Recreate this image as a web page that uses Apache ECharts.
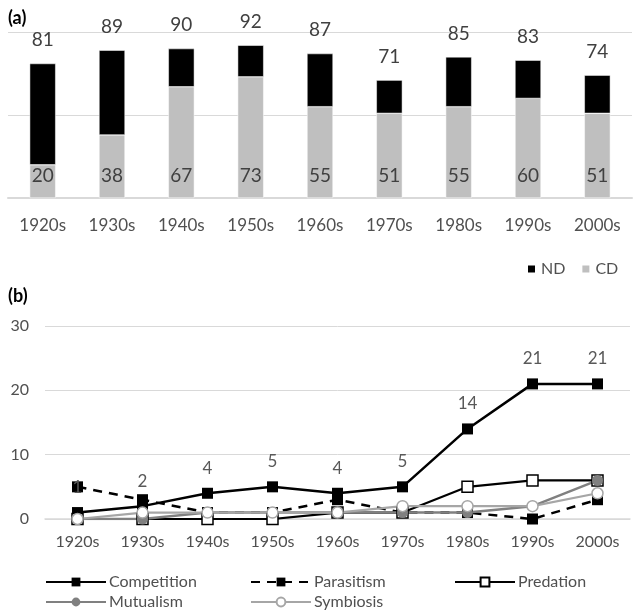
<!DOCTYPE html>
<html>
<head>
<meta charset="utf-8">
<script src="https://cdn.jsdelivr.net/npm/echarts@6/dist/echarts.min.js"></script>
<style>
html,body{margin:0;padding:0;background:#fff;}
#chart{width:637px;height:615px;}
</style>
</head>
<body>
<div id="chart"></div>
<script>
// ---- Data ----
var decades = ['1920s','1930s','1940s','1950s','1960s','1970s','1980s','1990s','2000s'];
// Panel (a)
var cdValues = [20, 38, 67, 73, 55, 51, 55, 60, 51];
var ndValues = [61, 51, 23, 19, 32, 20, 30, 23, 23];
var barTicks = [0, 50, 100];
// Panel (b)
var competition = [1, 2, 4, 5, 4, 5, 14, 21, 21];
var parasitism  = [5, 3, 1, 1, 3, 1, 1, 0, 3];
var predation   = [0, 0, 0, 0, 1, 1, 5, 6, 6];
var mutualism   = [0, 0, 1, 1, 1, 1, 1, 2, 6];
var symbiosis   = [0, 1, 1, 1, 1, 2, 2, 2, 4];
var lineTicks = [0, 10, 20, 30];

var FONT = 'Lato, "Open Sans", sans-serif';
var TEXT = '#505050';
var chart = echarts.init(document.getElementById('chart'), null, {renderer: 'canvas'});

function lineLegend(name, left, top) {
  return {data: [name], left: left, top: top, itemWidth: 60, itemHeight: 11, padding: 0,
    textStyle: {fontFamily: FONT, fontSize: 16, color: TEXT, padding: [0, 0, 0, -2]}};
}

var option = {
  backgroundColor: '#fff',
  animation: false,
  textStyle: {fontFamily: FONT},
  title: [
    {text: '(a)', left: 3, top: 4, textStyle: {fontFamily: FONT, fontSize: 18, fontWeight: 'bold', color: '#000'}},
    {text: '(b)', left: 3, top: 282, textStyle: {fontFamily: FONT, fontSize: 18, fontWeight: 'bold', color: '#000'}}
  ],
  legend: [
    {data: ['ND', 'CD'], left: 521, top: 256, icon: 'rect', itemWidth: 9, itemHeight: 9, itemGap: 15,
     textStyle: {fontFamily: FONT, fontSize: 16, color: TEXT}},
    lineLegend('Competition', 45, 574),
    lineLegend('Parasitism', 250, 574),
    lineLegend('Predation', 454, 574),
    lineLegend('Mutualism', 45, 594),
    lineLegend('Symbiosis', 250, 594)
  ],
  grid: [
    {left: 8, right: 5, top: 32, bottom: 417},
    {left: 45, right: 7, top: 326, bottom: 96}
  ],
  xAxis: [
    {type: 'category', gridIndex: 0, data: decades,
     axisLine: {show: true, lineStyle: {color: '#d9d9d9', width: 2}},
     axisTick: {show: false},
     axisLabel: {fontFamily: FONT, fontSize: 17, color: TEXT, margin: 19}},
    {type: 'category', gridIndex: 1, data: decades,
     axisLine: {show: true, lineStyle: {color: '#d9d9d9', width: 1.5}},
     axisTick: {show: false},
     axisLabel: {fontFamily: FONT, fontSize: 16, color: TEXT, margin: 15}}
  ],
  yAxis: [
    {type: 'value', gridIndex: 0, min: barTicks[0], max: barTicks[barTicks.length - 1], interval: barTicks[1] - barTicks[0],
     axisLabel: {show: false}, axisLine: {show: false}, axisTick: {show: false},
     splitLine: {lineStyle: {color: '#d9d9d9', width: 1}}},
    {type: 'value', gridIndex: 1, min: lineTicks[0], max: lineTicks[lineTicks.length - 1], interval: lineTicks[1] - lineTicks[0],
     axisLabel: {fontFamily: FONT, fontSize: 16, color: TEXT, margin: 16},
     axisLine: {show: false}, axisTick: {show: false},
     splitLine: {lineStyle: {color: '#d9d9d9', width: 1}}}
  ],
  series: [
    {name: 'CD', type: 'bar', stack: 'a', xAxisIndex: 0, yAxisIndex: 0, data: cdValues, barWidth: 26,
     itemStyle: {color: '#bfbfbf', borderColor: '#fff', borderWidth: 0.5},
     label: {show: true, position: 'insideBottom', distance: 13, fontFamily: FONT, fontSize: 19, color: '#404040'}},
    {name: 'ND', type: 'bar', stack: 'a', xAxisIndex: 0, yAxisIndex: 0, data: ndValues, barWidth: 26,
     itemStyle: {color: '#000', borderColor: '#fff', borderWidth: 0.5},
     label: {show: true, position: 'top', distance: 14, fontFamily: FONT, fontSize: 19, color: '#404040',
       formatter: function (p) { return String(p.value + cdValues[p.dataIndex]); }}},
    {name: 'Competition', type: 'line', xAxisIndex: 1, yAxisIndex: 1, data: competition,
     symbol: 'rect', symbolSize: 11, showAllSymbol: true,
     lineStyle: {color: '#000', width: 2.5}, itemStyle: {color: '#000'},
     label: {show: true, position: 'top', distance: 11, fontFamily: FONT, fontSize: 17, color: '#595959'}},
    {name: 'Parasitism', type: 'line', xAxisIndex: 1, yAxisIndex: 1, data: parasitism,
     symbol: 'rect', symbolSize: 11, showAllSymbol: true,
     lineStyle: {color: '#000', width: 2.5, type: [9, 7]}, itemStyle: {color: '#000'}},
    {name: 'Predation', type: 'line', xAxisIndex: 1, yAxisIndex: 1, data: predation,
     symbol: 'rect', symbolSize: 11, showAllSymbol: true,
     lineStyle: {color: '#000', width: 2.2}, itemStyle: {color: '#fff', borderColor: '#000', borderWidth: 1.5}},
    {name: 'Mutualism', type: 'line', xAxisIndex: 1, yAxisIndex: 1, data: mutualism,
     symbol: 'circle', symbolSize: 11, showAllSymbol: true,
     lineStyle: {color: '#808080', width: 2.5}, itemStyle: {color: '#808080'}},
    {name: 'Symbiosis', type: 'line', xAxisIndex: 1, yAxisIndex: 1, data: symbiosis,
     symbol: 'circle', symbolSize: 11, showAllSymbol: true,
     lineStyle: {color: '#a6a6a6', width: 2.2}, itemStyle: {color: '#fff', borderColor: '#a6a6a6', borderWidth: 1.5}}
  ]
};
chart.setOption(option);
</script>
</body>
</html>
